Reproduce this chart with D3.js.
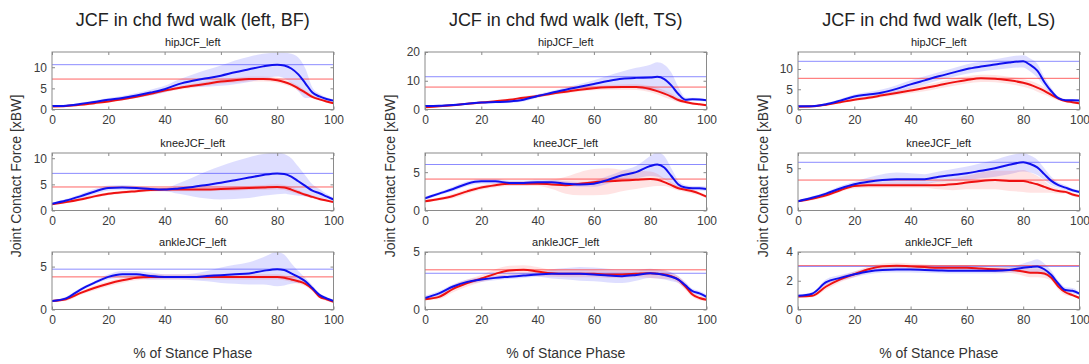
<!DOCTYPE html>
<html><head><meta charset="utf-8">
<script src="https://cdn.jsdelivr.net/npm/d3@7"></script>
<style>body{margin:0;background:#fff}svg{display:block}text{font-family:Arial,"Liberation Sans",Helvetica,sans-serif}</style>
</head><body><svg id="c" width="1089" height="364"></svg>
<script>
const xPct = [0,5,10,15,20,25,30,35,40,45,50,55,60,65,70,75,80,82.5,85,87.5,90,92.5,95,97.5,100];
const conditions = ["BF","TS","LS"];
const joints = ["hipJCF_left","kneeJCF_left","ankleJCF_left"];
const xTicks = [0,20,40,60,80,100];
const yMaxBF = [13.6, 11, 6.7];
const yMaxTS = [20, 7.5, 5];
const yMaxLS = [14.2, 6.8, 4];
const yTicksBF = [[0,5,10],[0,5,10],[0,5]];
const yTicksTS = [[0,10,20],[0,5],[0,5]];
const yTicksLS = [[0,5,10],[0,5],[0,2,4]];

const bfHipBlue = [0.8,0.9,1.3,1.8,2.3,2.7,3.3,4.0,4.8,6.0,6.8,7.4,8.0,8.8,9.5,10.2,10.6,10.4,9.7,8.3,6.2,4.0,3.1,2.5,2.1];
const bfHipBlueSd = [0.2,0.2,0.3,0.3,0.4,0.5,0.6,0.7,0.8,1.1,1.5,2.0,2.4,2.8,3.0,3.0,2.8,3.0,3.5,4.0,3.5,1.2,0.6,0.4,0.3];
const bfHipRed = [0.7,0.8,1.1,1.5,1.9,2.4,3.0,3.7,4.5,5.1,5.6,6.1,6.6,6.9,7.2,7.2,6.9,6.5,5.9,5.0,4.0,3.0,2.4,1.9,1.5];
const bfHipRedSd = [0.2,0.2,0.2,0.3,0.3,0.3,0.3,0.4,0.4,0.4,0.5,0.5,0.5,0.6,0.6,0.6,0.6,0.6,0.6,0.6,0.5,0.4,0.3,0.3,0.2];

const bfKneeBlue = [1.3,1.9,2.7,3.6,4.3,4.4,4.3,4.1,4.0,4.2,4.5,4.9,5.3,5.8,6.3,6.8,7.1,7.0,6.5,5.6,4.7,3.8,3.3,2.7,2.1];
const bfKneeBlueSd = [0.2,0.3,0.4,0.5,0.5,0.5,0.4,0.3,0.3,1.0,1.8,2.6,3.2,3.6,3.9,4.0,4.0,3.8,3.5,2.8,2.0,1.2,0.8,0.5,0.4];
const bfKneeRed = [1.2,1.6,2.1,2.7,3.2,3.5,3.7,3.9,4.0,4.0,4.0,4.0,4.1,4.2,4.3,4.4,4.5,4.4,4.0,3.5,3.0,2.6,2.2,1.9,1.6];
const bfKneeRedSd = [0.2,0.2,0.3,0.3,0.3,0.3,0.3,0.3,0.3,0.3,0.3,0.3,0.3,0.4,0.4,0.5,0.5,0.5,0.5,0.4,0.3,0.3,0.3,0.2,0.2];

const bfAnkleBlue = [1.0,1.3,2.3,3.1,3.8,4.1,4.1,3.9,3.8,3.8,3.8,3.9,4.0,4.1,4.2,4.5,4.7,4.6,4.2,3.8,3.3,2.5,1.7,1.3,1.0];
const bfAnkleBlueSd = [0.1,0.2,0.2,0.2,0.3,0.4,0.4,0.4,0.3,0.3,0.4,0.6,0.9,1.1,1.3,1.6,2.0,1.8,1.2,0.7,0.4,0.3,0.2,0.2,0.1];
const bfAnkleRed = [1.0,1.2,1.9,2.5,3.0,3.4,3.7,3.8,3.8,3.8,3.8,3.8,3.8,3.8,3.8,3.8,3.8,3.7,3.5,3.3,3.0,2.4,1.5,1.2,0.9];
const bfAnkleRedSd = [0.1,0.2,0.2,0.3,0.3,0.3,0.3,0.3,0.3,0.3,0.3,0.3,0.3,0.3,0.3,0.3,0.3,0.3,0.3,0.3,0.3,0.3,0.2,0.2,0.1];

const tsHipBlue = [1.2,1.3,1.6,2.0,2.4,2.6,2.8,3.4,4.7,5.8,6.9,7.9,8.9,9.9,10.7,11.0,11.1,11.4,10.6,8.4,5.4,3.4,3.6,3.5,3.2];
const tsHipBlueSd = [0.3,0.3,0.3,0.3,0.3,0.4,0.5,0.6,0.6,0.6,0.8,1.0,1.3,1.8,2.5,3.5,4.5,5.0,5.0,4.5,2.5,0.8,0.5,0.5,0.4];
const tsHipRed = [0.8,1.1,1.5,2.0,2.4,2.9,3.4,4.1,4.7,5.5,6.2,6.9,7.4,7.7,7.8,7.8,7.1,6.4,5.5,4.5,3.3,2.6,2.1,1.8,1.5];
const tsHipRedSd = [0.2,0.3,0.3,0.3,0.4,0.4,0.4,0.5,0.5,0.5,0.6,0.6,0.7,0.8,0.9,1.0,1.1,1.2,1.2,1.1,0.8,0.5,0.4,0.3,0.3];

const tsKneeBlue = [1.6,2.2,2.8,3.5,3.8,3.8,3.6,3.6,3.7,3.7,3.5,3.4,3.5,4.0,4.6,5.0,5.8,6.0,5.6,4.5,3.4,3.0,2.9,2.9,2.8];
const tsKneeBlueSd = [0.2,0.2,0.3,0.3,0.3,0.3,0.3,0.3,0.3,0.3,0.3,0.3,0.4,0.5,0.6,0.8,1.3,1.6,1.5,1.0,0.5,0.3,0.3,0.3,0.3];
const tsKneeRed = [1.2,1.5,1.9,2.5,3.0,3.3,3.5,3.5,3.5,3.4,3.3,3.5,3.7,3.8,3.9,4.0,4.1,4.0,3.7,3.3,2.9,2.7,2.5,2.2,1.8];
const tsKneeRedSd = [0.2,0.2,0.3,0.3,0.3,0.3,0.3,0.3,0.3,0.6,1.1,1.5,1.7,1.7,1.4,1.2,1.0,0.8,0.5,0.4,0.3,0.3,0.3,0.2,0.2];

const tsAnkleBlue = [1.0,1.4,2.0,2.4,2.6,2.75,2.85,2.95,3.05,3.1,3.1,3.1,3.05,2.95,2.9,3.0,3.15,3.1,3.0,2.85,2.6,2.1,1.6,1.4,1.1];
const tsAnkleBlueSd = [0.2,0.2,0.2,0.2,0.2,0.2,0.2,0.2,0.2,0.4,0.5,0.6,0.6,0.6,0.6,0.5,0.4,0.4,0.4,0.4,0.3,0.3,0.2,0.2,0.2];
const tsAnkleRed = [0.9,1.1,1.8,2.3,2.7,3.1,3.4,3.45,3.3,3.15,3.1,3.1,3.1,3.05,3.05,3.1,3.15,3.1,3.05,2.9,2.6,2.0,1.3,1.0,0.85];
const tsAnkleRedSd = [0.1,0.2,0.3,0.3,0.3,0.4,0.4,0.4,0.4,0.3,0.3,0.3,0.3,0.3,0.3,0.3,0.4,0.4,0.4,0.3,0.3,0.3,0.2,0.2,0.1];

const lsHipBlue = [0.8,0.8,1.3,2.2,3.2,3.7,4.2,5.1,6.2,7.2,8.2,9.1,10.0,10.6,11.1,11.6,11.9,11.0,9.6,6.8,4.5,2.8,2.3,2.3,2.2];
const lsHipBlueSd = [0.1,0.2,0.3,0.4,0.5,0.6,0.8,0.9,1.0,1.0,1.0,1.1,1.2,1.2,1.3,1.4,1.5,1.6,1.7,1.2,0.8,0.4,0.3,0.3,0.3];
const lsHipRed = [0.7,0.8,1.2,1.8,2.4,2.9,3.5,4.1,4.7,5.3,6.0,6.7,7.3,7.7,7.6,7.2,6.6,6.1,5.4,4.6,3.6,2.7,2.1,1.8,1.5];
const lsHipRedSd = [0.1,0.2,0.2,0.3,0.3,0.4,0.5,0.6,0.7,0.8,0.8,0.9,0.9,0.9,0.9,0.9,1.0,1.0,1.0,0.9,0.7,0.5,0.3,0.3,0.2];

const lsKneeBlue = [1.1,1.5,2.0,2.6,3.1,3.4,3.6,3.7,3.7,3.7,4.0,4.2,4.4,4.7,5.0,5.4,5.7,5.5,5.1,4.3,3.5,3.0,2.7,2.4,2.2];
const lsKneeBlueSd = [0.1,0.2,0.2,0.3,0.3,0.5,0.7,0.8,0.7,0.6,0.6,0.7,0.8,0.9,1.0,1.1,1.1,1.0,0.9,0.7,0.5,0.3,0.3,0.2,0.2];
const lsKneeRed = [1.1,1.4,1.8,2.4,2.9,3.0,3.0,3.0,3.0,3.0,3.0,3.1,3.3,3.5,3.6,3.5,3.5,3.3,3.1,2.8,2.5,2.3,2.2,1.9,1.7];
const lsKneeRedSd = [0.1,0.2,0.2,0.2,0.3,0.3,0.3,0.3,0.3,0.3,0.5,0.7,0.8,1.0,1.1,1.2,1.3,1.2,1.0,0.7,0.4,0.3,0.2,0.2,0.2];

const lsAnkleBlue = [0.95,1.1,1.9,2.2,2.45,2.65,2.75,2.78,2.78,2.75,2.72,2.7,2.7,2.7,2.7,2.75,2.9,2.95,3.0,2.8,2.4,1.8,1.35,1.3,1.1];
const lsAnkleBlueSd = [0.1,0.1,0.2,0.2,0.2,0.2,0.2,0.2,0.2,0.2,0.2,0.2,0.2,0.2,0.2,0.2,0.3,0.4,0.5,0.4,0.3,0.2,0.2,0.2,0.1];
const lsAnkleRed = [0.9,0.95,1.6,2.1,2.45,2.8,3.0,3.05,3.0,2.95,2.9,2.9,2.9,2.85,2.8,2.75,2.65,2.55,2.55,2.5,2.2,1.6,1.2,1.0,0.8];
const lsAnkleRedSd = [0.1,0.1,0.2,0.2,0.2,0.2,0.2,0.2,0.2,0.2,0.2,0.2,0.2,0.2,0.2,0.2,0.3,0.3,0.3,0.3,0.2,0.2,0.2,0.1,0.1];

const panels = [
  [[bfHipBlue,bfHipBlueSd,bfHipRed,bfHipRedSd],[bfKneeBlue,bfKneeBlueSd,bfKneeRed,bfKneeRedSd],[bfAnkleBlue,bfAnkleBlueSd,bfAnkleRed,bfAnkleRedSd]],
  [[tsHipBlue,tsHipBlueSd,tsHipRed,tsHipRedSd],[tsKneeBlue,tsKneeBlueSd,tsKneeRed,tsKneeRedSd],[tsAnkleBlue,tsAnkleBlueSd,tsAnkleRed,tsAnkleRedSd]],
  [[lsHipBlue,lsHipBlueSd,lsHipRed,lsHipRedSd],[lsKneeBlue,lsKneeBlueSd,lsKneeRed,lsKneeRedSd],[lsAnkleBlue,lsAnkleBlueSd,lsAnkleRed,lsAnkleRedSd]]
];
const yMaxes = [yMaxBF, yMaxTS, yMaxLS];
const yTickSets = [yTicksBF, yTicksTS, yTicksLS];

const svg = d3.select("#c");
const colLeft = [52, 425, 798];
const pw = 281.5;
const rowTop = [52, 153, 252];
const ph = 57.5;
const ylabX = [16, 390, 763];
const BOX = "#8a8a8a", TXT = "#3c3c3c";

conditions.forEach((cond, ci) => {
  const x0 = colLeft[ci];
  svg.append("text").attr("x", x0 + pw/2).attr("y", 26).attr("text-anchor","middle")
    .attr("font-size", 18).attr("fill","#222").text(`JCF in chd fwd walk (left, ${cond})`);
  svg.append("text").attr("x", x0 + pw/2).attr("y", 358).attr("text-anchor","middle")
    .attr("font-size", 14).attr("fill","#333").text("% of Stance Phase");
  svg.append("text").attr("transform", `translate(${ylabX[ci]},176) rotate(-90)`)
    .attr("text-anchor","middle").attr("dominant-baseline","central")
    .attr("font-size", 14).attr("fill","#333").text("Joint Contact Force [xBW]");

  joints.forEach((jn, ri) => {
    const y0 = rowTop[ri];
    const [bm, bs, rm, rs] = panels[ci][ri];
    const x = d3.scaleLinear().domain([0,100]).range([x0, x0+pw]);
    const y = d3.scaleLinear().domain([0, yMaxes[ci][ri]]).range([y0+ph, y0]);
    const id = `clip${ci}${ri}`;
    svg.append("clipPath").attr("id", id).append("rect")
      .attr("x", x0).attr("y", y0).attr("width", pw).attr("height", ph);
    const g = svg.append("g").attr("clip-path", `url(#${id})`);

    const area = (m, s) => d3.area().curve(d3.curveMonotoneX)
      .x((d,i) => x(xPct[i])).y0((d,i) => y(m[i]-s[i])).y1((d,i) => y(m[i]+s[i]))(m);
    const line = (m) => d3.line().curve(d3.curveMonotoneX)
      .x((d,i) => x(xPct[i])).y((d) => y(d))(m);

    g.append("path").attr("d", area(bm, bs)).attr("fill","#0000ff").attr("fill-opacity",0.13);
    g.append("path").attr("d", area(rm, rs)).attr("fill","#ff0000").attr("fill-opacity",0.11);

    const bMax = d3.max(bm), rMax = d3.max(rm);
    g.append("line").attr("x1", x0).attr("x2", x0+pw).attr("y1", y(rMax)).attr("y2", y(rMax))
      .attr("stroke","#ff3030").attr("stroke-opacity",0.75).attr("stroke-width",1);
    g.append("line").attr("x1", x0).attr("x2", x0+pw).attr("y1", y(bMax)).attr("y2", y(bMax))
      .attr("stroke","#4040ff").attr("stroke-opacity",0.6).attr("stroke-width",1);

    g.append("path").attr("d", line(rm)).attr("fill","none").attr("stroke","#ee1111").attr("stroke-width",2);
    g.append("path").attr("d", line(bm)).attr("fill","none").attr("stroke","#1010ee").attr("stroke-width",2);

    // box
    svg.append("rect").attr("x", x0).attr("y", y0).attr("width", pw).attr("height", ph)
      .attr("fill","none").attr("stroke", BOX).attr("stroke-width",1);
    // x axis
    const xa = svg.append("g").attr("transform", `translate(0,${y0+ph})`)
      .call(d3.axisBottom(x).tickValues(xTicks).tickSize(-3).tickPadding(6).tickFormat(d3.format("d")));
    xa.select(".domain").remove();
    xa.selectAll("line").attr("stroke", BOX);
    xa.selectAll("text").attr("font-size", 12).attr("fill", TXT).attr("font-family","Arial, 'Liberation Sans', sans-serif");
    const xt = svg.append("g").attr("transform", `translate(0,${y0})`)
      .call(d3.axisTop(x).tickValues(xTicks).tickSize(-3).tickFormat(""));
    xt.select(".domain").remove();
    xt.selectAll("line").attr("stroke", BOX);
    // y axis
    const ya = svg.append("g").attr("transform", `translate(${x0},0)`)
      .call(d3.axisLeft(y).tickValues(yTickSets[ci][ri]).tickSize(-3).tickPadding(5).tickFormat(d3.format("d")));
    ya.select(".domain").remove();
    ya.selectAll("line").attr("stroke", BOX);
    ya.selectAll("text").attr("font-size", 12).attr("fill", TXT).attr("font-family","Arial, 'Liberation Sans', sans-serif");
    const yr = svg.append("g").attr("transform", `translate(${x0+pw},0)`)
      .call(d3.axisRight(y).tickValues(yTickSets[ci][ri]).tickSize(-3).tickFormat(""));
    yr.select(".domain").remove();
    yr.selectAll("line").attr("stroke", BOX);

    svg.append("text").attr("x", x0 + pw/2).attr("y", y0 - 6).attr("text-anchor","middle")
      .attr("font-size", 11).attr("fill","#222").text(jn);
  });
});
</script></body></html>
